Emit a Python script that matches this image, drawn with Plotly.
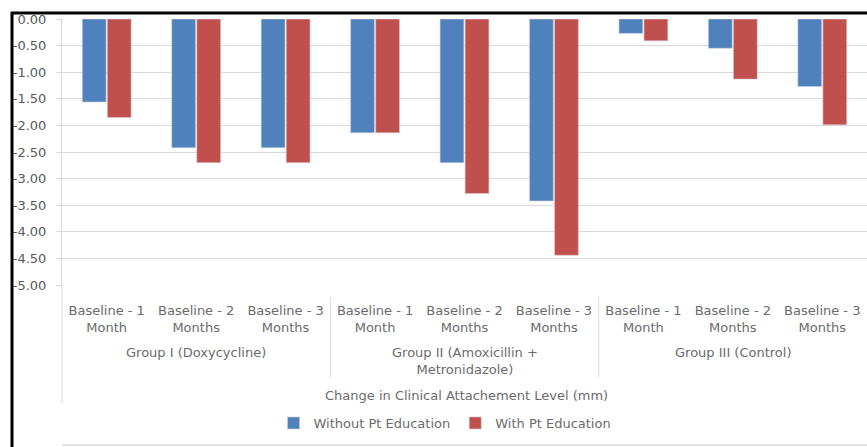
import plotly.graph_objects as go

# ---- data ----
groups = ["Group I (Doxycycline)", "Group II (Amoxicillin +<br>Metronidazole)", "Group III (Control)"]
periods = ["Baseline - 1<br>Month", "Baseline - 2<br>Months", "Baseline - 3<br>Months"]
without_edu = [-1.56, -2.42, -2.42, -2.14, -2.70, -3.42, -0.27, -0.55, -1.27]
with_edu = [-1.85, -2.70, -2.70, -2.14, -3.28, -4.44, -0.41, -1.13, -1.99]
y_ticks = [0, -0.5, -1.0, -1.5, -2.0, -2.5, -3.0, -3.5, -4.0, -4.5, -5.0]
axis_title = "Change in Clinical Attachement Level (mm)"
series_names = ["Without Pt Education", "With Pt Education"]

categories = [p for g in groups for p in periods]
idx = list(range(len(categories)))
n = len(categories)

W, H = 867, 447
ML, MR, MT, MB = 62, 0, 19, 162
plot_h = H - MT - MB
plot_w = W - ML - MR


def py(px):
    """pixel y -> paper y"""
    return (H - MB - px) / plot_h


def pxx(px):
    return (px - ML) / plot_w


FONT = "DejaVu Sans"
GRAY = "#6b6b6b"

fig = go.Figure()
fig.add_trace(go.Bar(x=idx, y=without_edu, name=series_names[0],
                     marker=dict(color="#4F81BD", line=dict(color="#c9cfd8", width=0.6))))
fig.add_trace(go.Bar(x=idx, y=with_edu, name=series_names[1],
                     marker=dict(color="#C0504D", line=dict(color="#d9c9c9", width=0.6))))

annotations = []
for gi, g in enumerate(groups):
    center = gi * len(periods) + (len(periods) - 1) / 2
    annotations.append(dict(x=center, xref="x", y=py(343), yref="paper", yanchor="top",
                            text=g, showarrow=False, font=dict(family=FONT, size=13, color=GRAY)))
annotations.append(dict(x=pxx(467), xref="paper", y=py(395), yref="paper", yanchor="middle",
                        text=axis_title, showarrow=False, font=dict(family=FONT, size=13, color=GRAY)))

shapes = []
# group dividers
for gi in range(1, len(groups)):
    xp = (gi * len(periods)) / n
    shapes.append(dict(type="line", xref="paper", yref="paper", x0=xp, x1=xp,
                       y0=py(297), y1=py(378), line=dict(color="#D9D9D9", width=1)))
# left axis extension
shapes.append(dict(type="line", xref="paper", yref="paper", x0=0, x1=0,
                   y0=0, y1=py(403), line=dict(color="#D9D9D9", width=1)))
# bottom line
shapes.append(dict(type="line", xref="paper", yref="paper", x0=0, x1=1,
                   y0=py(445), y1=py(445), line=dict(color="#D9D9D9", width=1.5)))
# black frame
shapes.append(dict(type="line", xref="paper", yref="paper", x0=pxx(11), x1=1.01,
                   y0=py(13), y1=py(13), line=dict(color="black", width=3)))
shapes.append(dict(type="line", xref="paper", yref="paper", x0=pxx(12), x1=pxx(12),
                   y0=py(12), y1=py(450), line=dict(color="black", width=3)))

fig.update_layout(
    width=W, height=H,
    margin=dict(l=ML, r=MR, t=MT, b=MB),
    paper_bgcolor="white", plot_bgcolor="white",
    barmode="group", bargap=0.44, bargroupgap=0.05,
    font=dict(family=FONT, size=13, color=GRAY),
    showlegend=True,
    legend=dict(orientation="h", x=pxx(445), xanchor="center", y=py(423), yanchor="middle",
                font=dict(family=FONT, size=13, color=GRAY), itemwidth=30,
                traceorder="normal"),
    annotations=annotations,
    shapes=shapes,
)
fig.update_xaxes(range=[-0.5, n - 0.5], tickvals=idx, ticktext=categories,
                 showgrid=False, zeroline=False, showline=False, ticks="",
                 ticklabelstandoff=16, tickfont=dict(family=FONT, size=13, color=GRAY))
fig.update_yaxes(range=[-5, 0], tickvals=y_ticks, ticktext=[f"{v:.2f}" for v in y_ticks],
                 showgrid=True, gridcolor="#D9D9D9", gridwidth=1, zeroline=False,
                 showline=True, linecolor="#D9D9D9", linewidth=1,
                 ticks="outside", ticklen=5, tickcolor="#D9D9D9",
                 ticklabelstandoff=7,
                 tickfont=dict(family=FONT, size=13, color="#595959"))

fig.write_html("out.html", config={"displayModeBar": False},
               post_script="document.body.style.margin='0';document.body.style.overflow='hidden';")
